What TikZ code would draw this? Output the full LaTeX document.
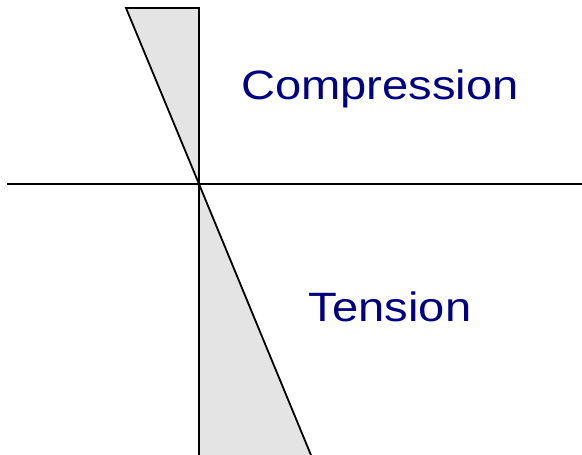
\documentclass[tikz,border=0pt]{standalone}
\usepackage{fontspec}
\setmainfont{Liberation Sans}
\usepackage{xcolor}
\definecolor{labelblue}{RGB}{0,0,128}
\definecolor{stressgray}{RGB}{228,228,228}
\tikzstyle{axis}   = [line width=1.8bp, black]
\tikzstyle{stress} = [line width=1.8bp, draw=black, fill=stressgray, line join=miter]
\tikzstyle{zone}   = [text=labelblue, anchor=base, inner sep=0pt, transform shape, xscale=1.15, font=\fontsize{41bp}{48bp}\selectfont]

\begin{document}
\begin{tikzpicture}[x=1bp, y=1bp]
        \useasboundingbox (-199,-271) rectangle (383,184);
        % stress blocks
        \draw [stress] (-73,176) -- (0,176) -- (0,0) -- cycle;
        \draw [stress] (0,0) -- (0,-275) -- (113.6,-275) -- cycle;
        % axes
        \draw [axis] (-192,0) -- (383,0);
        \draw [axis] (0,176) -- (0,-275);
        % labels
        \node (comp) [zone] at (181,84)   {Compression};
        \node (tens) [zone] at (191,-138) {Tension};
    \end{tikzpicture}
\end{document}
